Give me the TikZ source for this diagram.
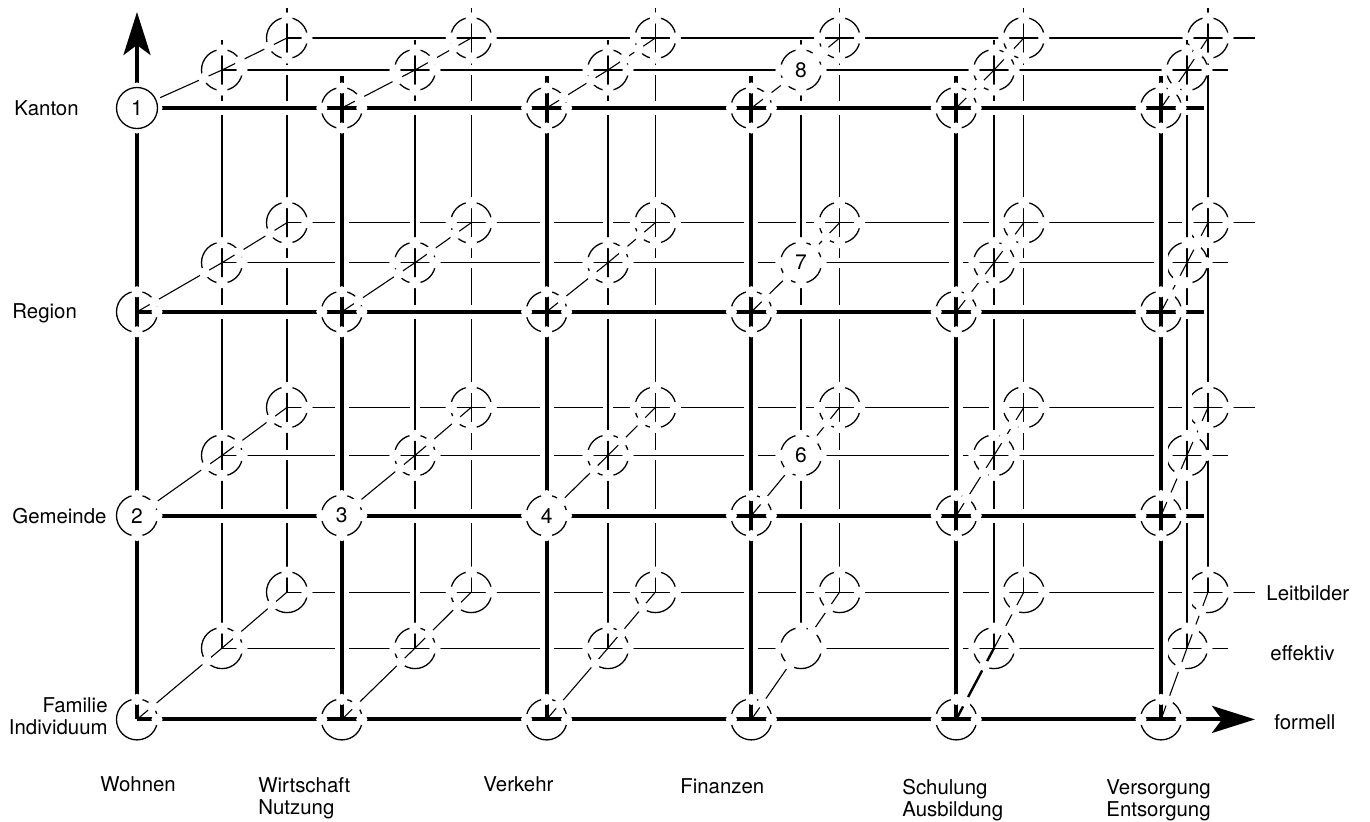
\documentclass[tikz,border=0pt]{standalone}
\usepackage{fontspec}
\setmainfont{TeX Gyre Heros}
\usetikzlibrary{calc,arrows.meta}
\newcommand\gapdot[2]{\fill[white] ($(#1)!10pt!(#2)$) circle[radius=2.8pt];}
\begin{document}
\begin{tikzpicture}[x=0.5pt,y=-0.5pt,
  thinln/.style={line width=0.55pt},
  effln/.style={thinln, preaction={draw=white, line width=5pt, shorten <=10pt, shorten >=10pt}},
  effext/.style={thinln, preaction={draw=white, line width=5pt, shorten <=10pt}},
  frontln/.style={line width=2pt, preaction={draw=white, line width=7pt, shorten <=10pt, shorten >=10pt}},
  frontext/.style={line width=2pt, preaction={draw=white, line width=7pt, shorten <=10pt}},
  thickln/.style={line width=2pt},
  bigarrow/.style={line width=2pt, -{Stealth[length=21.5pt, width=13.5pt, inset=5pt]}},
  ring/.style={circle, draw, line width=0.65pt, minimum size=20.5pt, inner sep=0pt},
  numring/.style={ring, fill=white, font=\fontsize{10.5}{12}\selectfont},
  lab/.style={inner sep=0pt, font=\fontsize{10.2}{12}\selectfont},
]
\useasboundingbox (0,0) rectangle (1370,821);
% ---------- grid coordinates ----------
\foreach \nm/\myXo/\myDx/\myYo/\myDy in {f/137/204.8/108/203.8, e/222/193/70/192.7, l/287/184.2/38/184.7}{
  \foreach \c in {0,...,5}{
    \foreach \r in {0,...,3}{
      \coordinate (\nm-\c-\r) at ({\myXo+\c*\myDx},{\myYo+\r*\myDy});
    }
  }
}
\foreach \nm/\myXo/\myDx/\myYt in {f/137/204.8/76, e/222/193/40, l/287/184.2/8}{
  \foreach \c in {0,...,5}{\coordinate (\nm-T\c) at ({\myXo+\c*\myDx},\myYt);}
}
\foreach \nm/\myYo/\myDy/\myXr in {f/108/203.8/1204, e/70/192.7/1228, l/38/184.7/1255}{
  \foreach \r in {0,...,3}{\coordinate (\nm-R\r) at (\myXr,{\myYo+\r*\myDy});}
}
\coordinate (f-T0) at (137,12);
\coordinate (f-R3) at (1255,719.4);
% ---------- back layer (Leitbilder) lines ----------
\foreach \c in {0,...,5}{
  \draw[thinln] (l-T\c) -- (l-\c-0) -- (l-\c-1) -- (l-\c-2) -- (l-\c-3);
}
\foreach \r in {0,...,3}{
  \draw[thinln] (l-0-\r) -- (l-1-\r) -- (l-2-\r) -- (l-3-\r) -- (l-4-\r) -- (l-5-\r) -- (l-R\r);
}
% ---------- depth diagonals ----------
\foreach \c in {0,...,5}{\foreach \r in {0,...,3}{
  \draw[thinln] (f-\c-\r) -- (e-\c-\r) -- (l-\c-\r);
}}
\draw[line width=1.2pt] (f-4-3) -- (e-4-3);
% ---------- Leitbilder circles ----------
\foreach \c in {0,...,5}{\foreach \r in {0,...,3}{
  \node[ring] (rl-\c-\r) at (l-\c-\r) {};
}}
\foreach \c in {0,...,5}{\foreach \r in {0,...,3}{
  \pgfmathtruncatemacro\myCp{\c+1}\pgfmathtruncatemacro\myCm{\c-1}
  \pgfmathtruncatemacro\myRp{\r+1}\pgfmathtruncatemacro\myRm{\r-1}
  \ifnum\c<5 \gapdot{l-\c-\r}{l-\myCp-\r}\else \gapdot{l-\c-\r}{l-R\r}\fi
  \ifnum\c>0 \gapdot{l-\c-\r}{l-\myCm-\r}\fi
  \ifnum\r>0 \gapdot{l-\c-\r}{l-\c-\myRm}\else \gapdot{l-\c-\r}{l-T\c}\fi
  \ifnum\r<3 \gapdot{l-\c-\r}{l-\c-\myRp}\fi
  \gapdot{l-\c-\r}{e-\c-\r}
}}
% ---------- middle layer (effektiv) lines ----------
\foreach \c in {0,...,5}{
  \draw[thinln] (e-\c-0) -- (e-T\c);
  \foreach \r in {0,1,2}{
    \pgfmathtruncatemacro\myRp{\r+1}
    \draw[effln] (e-\c-\myRp) -- (e-\c-\r);
  }
}
\foreach \r in {0,...,3}{
  \foreach \c in {0,...,4}{
    \pgfmathtruncatemacro\myCp{\c+1}
    \draw[effln] (e-\c-\r) -- (e-\myCp-\r);
  }
  \draw[effext] (e-5-\r) -- (e-R\r);
}
% ---------- effektiv circles ----------
\foreach \c in {0,...,5}{\foreach \r in {0,...,3}{
  \ifnum\c=3 \else \node[ring] (re-\c-\r) at (e-\c-\r) {};\fi
}}
\node[numring] (n8) at (e-3-0) {8};
\node[numring] (n7) at (e-3-1) {7};
\node[numring] (n6) at (e-3-2) {6};
\node[ring, fill=white] (nblank) at (e-3-3) {};
\foreach \c in {0,...,5}{\foreach \r in {0,...,3}{
  \pgfmathtruncatemacro\myCp{\c+1}\pgfmathtruncatemacro\myCm{\c-1}
  \pgfmathtruncatemacro\myRp{\r+1}\pgfmathtruncatemacro\myRm{\r-1}
  \ifnum\c<5 \gapdot{e-\c-\r}{e-\myCp-\r}\else \gapdot{e-\c-\r}{e-R\r}\fi
  \ifnum\c>0 \gapdot{e-\c-\r}{e-\myCm-\r}\fi
  \ifnum\r>0 \gapdot{e-\c-\r}{e-\c-\myRm}\else \gapdot{e-\c-\r}{e-T\c}\fi
  \ifnum\r<3 \gapdot{e-\c-\r}{e-\c-\myRp}\fi
  \gapdot{e-\c-\r}{l-\c-\r}
  \gapdot{e-\c-\r}{f-\c-\r}
}}
% ---------- front layer (formell) lines ----------
\foreach \c in {0,...,5}{
  \foreach \r in {0,1,2}{
    \pgfmathtruncatemacro\myRp{\r+1}
    \draw[frontln] (f-\c-\myRp) -- (f-\c-\r);
  }
}
\foreach \c in {1,...,5}{\draw[thickln] (f-\c-0) -- (f-T\c);}
\draw[bigarrow] (f-0-0) -- (f-T0);
\foreach \r in {0,...,3}{
  \foreach \c in {0,...,4}{
    \pgfmathtruncatemacro\myCp{\c+1}
    \draw[frontln] (f-\c-\r) -- (f-\myCp-\r);
  }
}
\foreach \r in {0,1,2}{\draw[frontext] (f-5-\r) -- (f-R\r);}
\draw[bigarrow] (f-5-3) -- (f-R3);
% ---------- front circles ----------
\foreach \c in {0,...,5}{\foreach \r in {0,...,3}{
  \pgfmathtruncatemacro\skipit{((\r==2)&&(\c<3))||((\c==0)&&(\r==0))}
  \ifnum\skipit=0 \node[ring] (rf-\c-\r) at (f-\c-\r) {};\fi
}}
\node[numring] (n2) at (f-0-2) {2};
\node[numring] (n3) at (f-1-2) {3};
\node[numring] (n4) at (f-2-2) {4};
\foreach \c in {0,...,5}{\foreach \r in {0,...,3}{
  \pgfmathtruncatemacro\myCp{\c+1}\pgfmathtruncatemacro\myCm{\c-1}
  \pgfmathtruncatemacro\myRp{\r+1}\pgfmathtruncatemacro\myRm{\r-1}
  \ifnum\c<5 \gapdot{f-\c-\r}{f-\myCp-\r}\else \gapdot{f-\c-\r}{f-R\r}\fi
  \ifnum\c>0 \gapdot{f-\c-\r}{f-\myCm-\r}\fi
  \ifnum\r>0 \gapdot{f-\c-\r}{f-\c-\myRm}\else \gapdot{f-\c-\r}{f-T\c}\fi
  \ifnum\r<3 \gapdot{f-\c-\r}{f-\c-\myRp}\fi
  \gapdot{f-\c-\r}{e-\c-\r}
}}
\node[numring, preaction={draw=white, line width=4pt}] (n1) at (f-0-0) {1};
% ---------- labels ----------
\node[lab, anchor=base west] (kanton) at (14,115) {Kanton};
\node[lab, anchor=base west] (region) at (12,318) {Region};
\node[lab, anchor=base west] (gemeinde) at (12,523) {Gemeinde};
\node[lab, anchor=base east] (familie) at (108,712) {Familie};
\node[lab, anchor=base east] (individuum) at (108,734) {Individuum};
\node[lab, anchor=base west] (wohnen) at (100,791) {Wohnen};
\node[lab, anchor=base west] (wirtschaft) at (258,792) {Wirtschaft};
\node[lab, anchor=base west] (nutzung) at (258,814) {Nutzung};
\node[lab, anchor=base west] (verkehr) at (483,791) {Verkehr};
\node[lab, anchor=base west] (finanzen) at (680,793) {Finanzen};
\node[lab, anchor=base west] (schulung) at (902,794) {Schulung};
\node[lab, anchor=base west] (ausbildung) at (902,816) {Ausbildung};
\node[lab, anchor=base west] (versorgung) at (1106,794) {Versorgung};
\node[lab, anchor=base west] (entsorgung) at (1106,816) {Entsorgung};
\node[lab, anchor=base west] (leitbilder) at (1266,600) {Leitbilder};
\node[lab, anchor=base west] (effektiv) at (1270,660) {effektiv};
\node[lab, anchor=base west] (formell) at (1274,729) {formell};
\end{tikzpicture}
\end{document}
